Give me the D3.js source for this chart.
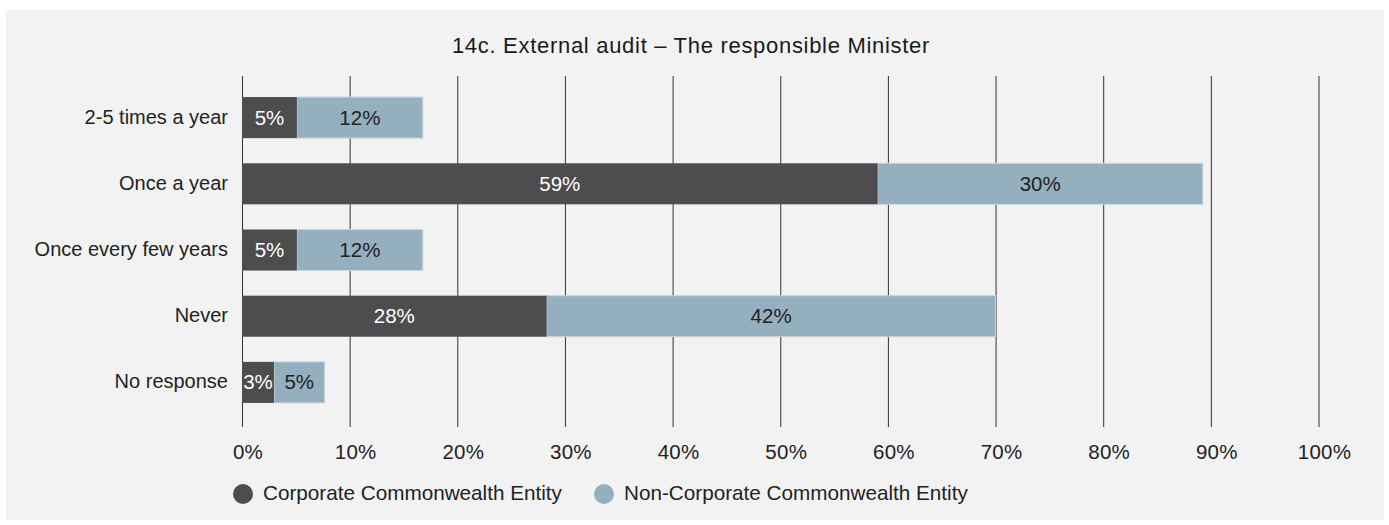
<!DOCTYPE html>
<html><head><meta charset="utf-8">
<script src="https://cdn.jsdelivr.net/npm/d3@7"></script>
<style>html,body{margin:0;padding:0;background:#fff;}</style>
</head><body>
<svg id="c" width="1389" height="525"></svg>
<script>
const categories = ["2-5 times a year","Once a year","Once every few years","Never","No response"];
const corporate = [5.1, 59.05, 5.1, 28.3, 2.97];
const nonCorporate = [11.7, 30.2, 11.7, 41.7, 4.7];
const corporateLabels = ["5%","59%","5%","28%","3%"];
const nonCorporateLabels = ["12%","30%","12%","42%","5%"];
const ticks = [0,10,20,30,40,50,60,70,80,90,100];
const seriesNames = ["Corporate Commonwealth Entity","Non-Corporate Commonwealth Entity"];
const colors = ["#4d4d4f","#94afbe"];
const title = "14c. External audit – The responsible Minister";

const font = "'Liberation Sans', Arial, sans-serif";
const fs = 20.5, ls = 0.25;
const svg = d3.select("#c");
svg.append("rect").attr("x",6).attr("y",10).attr("width",1378).attr("height",510).attr("fill","#f2f2f2");

const x = d3.scaleLinear().domain([0,100]).range([242,1318.5]);
const y = d3.scaleBand().domain(categories).range([84.5,415.5]).paddingInner(0.38).paddingOuter(0.19);

svg.append("text").attr("x",691).attr("y",53).attr("text-anchor","middle")
  .attr("font-family",font).attr("font-size",22).attr("letter-spacing",0.7).attr("fill","#1a1a1a").text(title);

// gridlines
svg.append("g").selectAll("line").data(ticks).join("line")
  .attr("x1",d=>x(d)+0.5).attr("x2",d=>x(d)+0.5).attr("y1",76).attr("y2",427)
  .attr("stroke","#333").attr("stroke-width",1);

// tick labels
svg.append("g").selectAll("text").data(ticks).join("text")
  .attr("x",d=>x(d)+6).attr("y",459).attr("text-anchor","middle")
  .attr("font-family",font).attr("font-size",fs).attr("letter-spacing",ls).attr("fill","#222").text(d=>d+"%");

// category labels
svg.append("g").selectAll("text").data(categories).join("text")
  .attr("x",228).attr("y",d=>y(d)+y.bandwidth()/2+6).attr("text-anchor","end")
  .attr("font-family",font).attr("font-size",20).attr("fill","#222").text(d=>d);

const rows = categories.map((c,i)=>({c, a:corporate[i], b:nonCorporate[i], la:corporateLabels[i], lb:nonCorporateLabels[i]}));
const g = svg.append("g");
g.selectAll("rect.b").data(rows).join("rect").attr("class","b")
  .attr("x",d=>x(d.a)).attr("width",d=>x(d.a+d.b)-x(d.a))
  .attr("y",d=>y(d.c)).attr("height",y.bandwidth())
  .attr("fill",colors[1]).attr("stroke","#c9d6de").attr("stroke-width",1);
g.selectAll("rect.a").data(rows).join("rect").attr("class","a")
  .attr("x",d=>x(0)).attr("width",d=>x(d.a)-x(0))
  .attr("y",d=>y(d.c)).attr("height",y.bandwidth())
  .attr("fill",colors[0]);
g.selectAll("text.a").data(rows).join("text").attr("class","a")
  .attr("x",d=>(x(0)+x(d.a))/2).attr("y",d=>y(d.c)+y.bandwidth()/2+7)
  .attr("text-anchor","middle").attr("font-family",font).attr("font-size",fs).attr("fill","#fff").text(d=>d.la);
g.selectAll("text.b").data(rows).join("text").attr("class","b")
  .attr("x",d=>(x(d.a)+x(d.a+d.b))/2).attr("y",d=>y(d.c)+y.bandwidth()/2+7)
  .attr("text-anchor","middle").attr("font-family",font).attr("font-size",fs).attr("fill","#222").text(d=>d.lb);

// legend
const legX = [243, 604];
const lg = svg.append("g");
seriesNames.forEach((n,i)=>{
  lg.append("circle").attr("cx",legX[i]).attr("cy",494).attr("r",10).attr("fill",colors[i]);
  lg.append("text").attr("x",legX[i]+20).attr("y",500).attr("font-family",font).attr("font-size",20.7).attr("fill","#222").text(n);
});
</script>
</body></html>
